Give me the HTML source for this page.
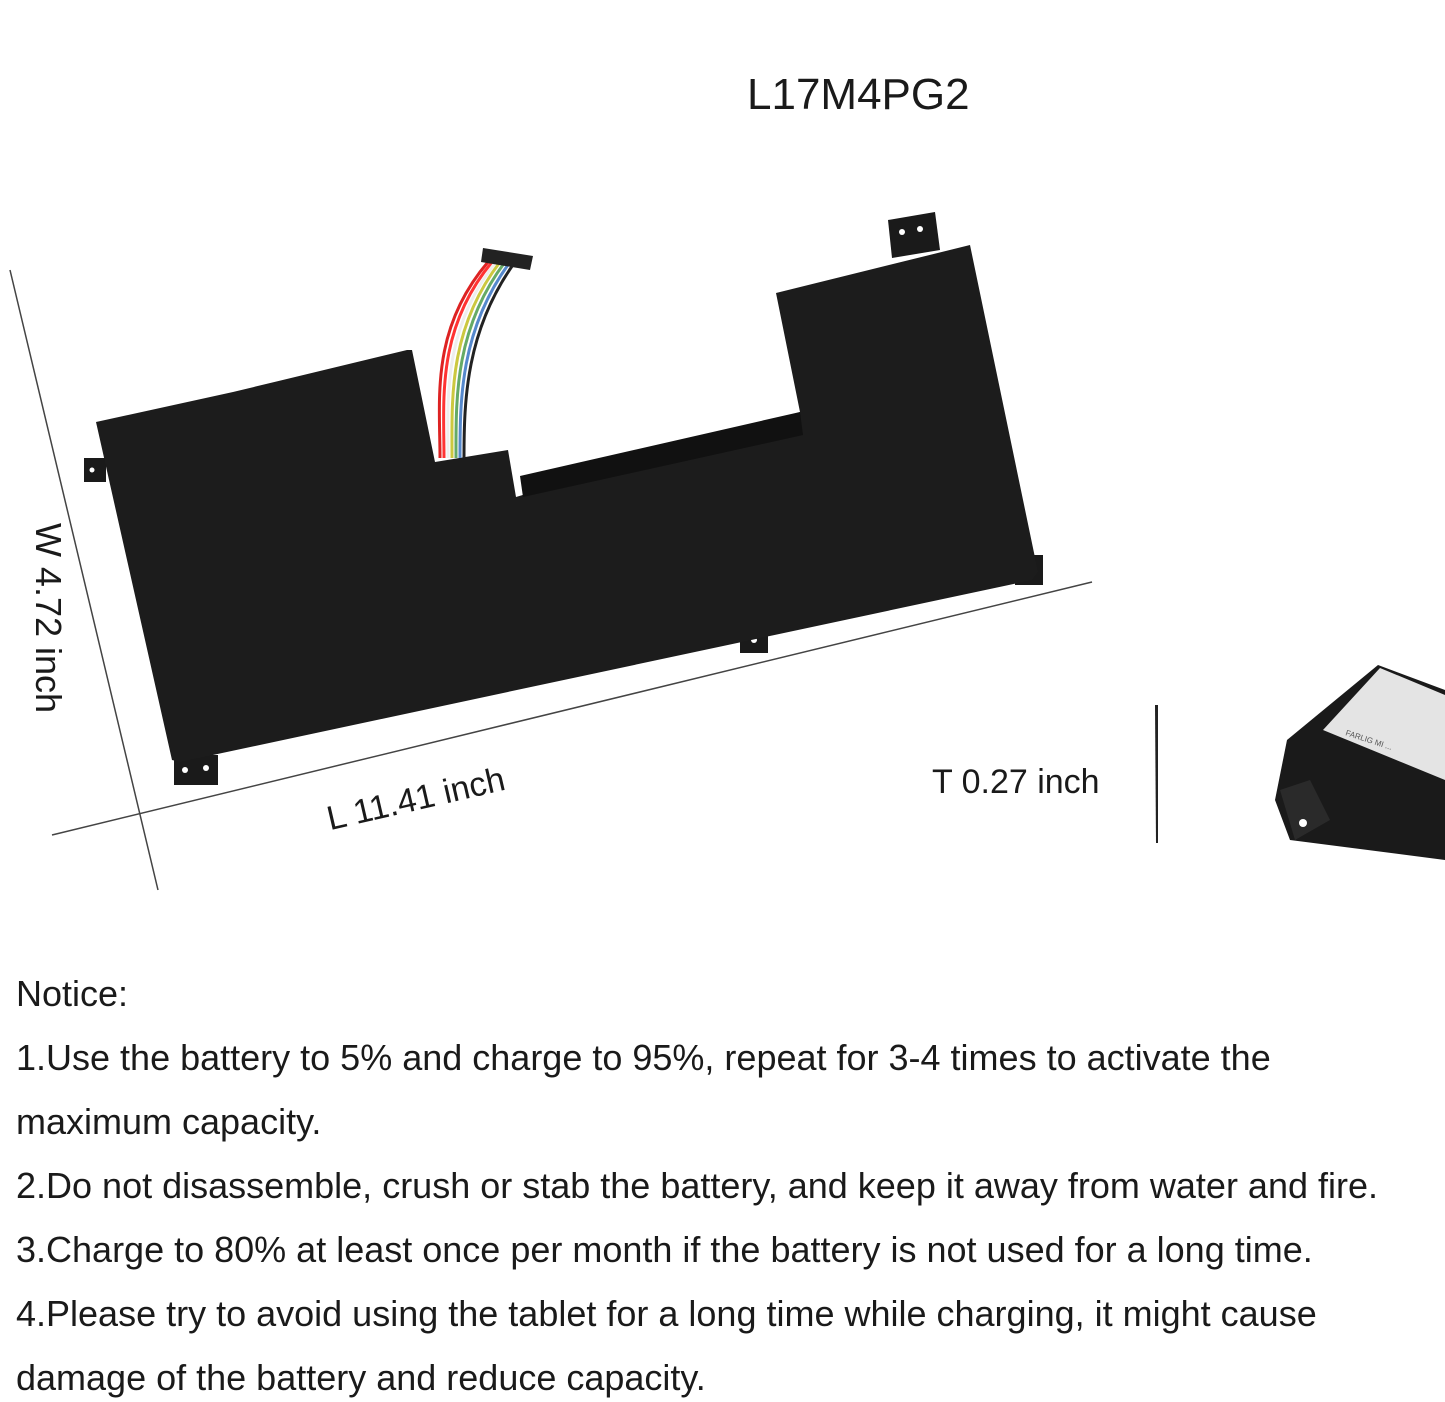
<!DOCTYPE html>
<html><head><style>
body{margin:0;background:#fff;}
#c{position:relative;width:1445px;height:1402px;overflow:hidden;font-family:"Liberation Sans",sans-serif;color:#1a1a1a;}
.t{position:absolute;left:16px;font-size:36px;white-space:nowrap;}
</style></head><body><div id="c">
<svg width="1445" height="1402" style="position:absolute;left:0;top:0">
<line x1="10" y1="270" x2="158" y2="890" stroke="#444" stroke-width="1.5"/>
<line x1="52" y1="835" x2="1092" y2="582" stroke="#444" stroke-width="1.5"/>
<polygon points="1155,705 1158,705 1158,843 1156,843" fill="#222"/>
<g fill="#1a1a1a">
<rect x="84" y="458" width="22" height="24"/>
<rect x="174" y="755" width="44" height="30"/>
<rect x="740" y="625" width="28" height="28"/>
<rect x="1015" y="555" width="28" height="30"/>
<polygon points="888,220 935,212 940,250 892,258"/>
</g>
<g fill="#fff"><circle cx="92" cy="470" r="2.5"/><circle cx="185" cy="770" r="3"/><circle cx="206" cy="768" r="3"/><circle cx="754" cy="640" r="3"/><circle cx="1030" cy="572" r="3"/><circle cx="902" cy="232" r="3"/><circle cx="920" cy="229" r="3"/></g>
<polygon fill="#1c1c1c" points="96,422 233,392 407,350 412,350 435,462 508,450 516,497 800,412 776,293 970,245 1038,572 1032,580 180,762 172,760"/>
<polygon fill="#111" points="520,476 800,412 803,435 523,497"/>
<g fill="none" stroke-width="3">
<path d="M440,458 C440,400 430,330 488,262" stroke="#d22"/>
<path d="M444,458 C444,400 436,330 492,262" stroke="#f33"/>
<path d="M448,458 C448,400 442,330 496,262" stroke="#eee"/>
<path d="M452,458 C452,400 448,330 500,262" stroke="#ccc840"/>
<path d="M456,458 C456,400 454,330 505,262" stroke="#6a6"/>
<path d="M460,458 C460,400 460,330 510,262" stroke="#58c"/>
<path d="M464,458 C464,400 466,330 515,262" stroke="#222"/>
</g>
<polygon fill="#222" points="483,248 533,256 530,270 481,262"/>
<polygon fill="#1a1a1a" points="1287,740 1378,665 1445,690 1445,860 1290,840 1275,800"/>
<polygon fill="#e4e4e4" points="1323,730 1380,668 1445,695 1445,780"/>
<polygon fill="#2a2a2a" points="1280,790 1310,780 1330,820 1295,840"/>
<circle cx="1303" cy="823" r="4" fill="#fff"/>
<text x="1345" y="735" font-size="8" fill="#555" transform="rotate(18 1345 735)">FARLIG MI ...</text>
</svg>
<div style="position:absolute;left:747px;top:70px;font-size:44px;">L17M4PG2</div>
<div style="position:absolute;left:-62px;top:597px;font-size:36px;transform:rotate(90deg);transform-origin:center;width:220px;text-align:center;">W 4.72 inch</div>
<div style="position:absolute;left:332px;top:800px;font-size:34px;transform:rotate(-13deg);transform-origin:left bottom;white-space:nowrap;">L 11.41 inch</div>
<div style="position:absolute;left:932px;top:763px;font-size:34px;">T 0.27 inch</div>
<div class="t" style="top:973px">Notice:</div>
<div class="t" style="top:1037px">1.Use the battery to 5% and charge to 95%, repeat for 3-4 times to activate the</div>
<div class="t" style="top:1101px">maximum capacity.</div>
<div class="t" style="top:1165px">2.Do not disassemble, crush or stab the battery, and keep it away from water and fire.</div>
<div class="t" style="top:1229px">3.Charge to 80% at least once per month if the battery is not used for a long time.</div>
<div class="t" style="top:1293px">4.Please try to avoid using the tablet for a long time while charging, it might cause</div>
<div class="t" style="top:1357px">damage of the battery and reduce capacity.</div>
</div></body></html>
